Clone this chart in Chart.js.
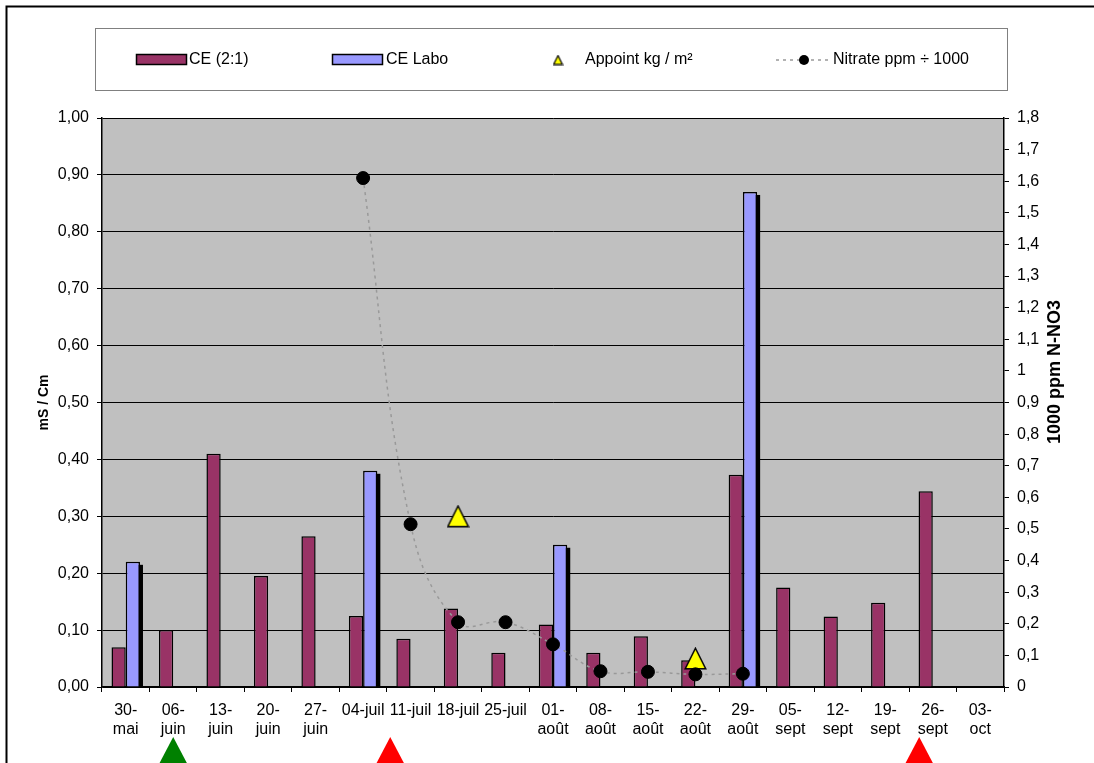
<!DOCTYPE html>
<html>
<head>
<meta charset="utf-8">
<script src="https://cdn.jsdelivr.net/npm/chart.js@4.4.0/dist/chart.umd.min.js"></script>
<style>
  html, body { margin: 0; padding: 0; background: #fff; }
  #wrap { width: 1094px; height: 763px; position: relative; }
</style>
</head>
<body>
<div id="wrap"><canvas id="chart"></canvas></div>
<script>
// Weekly sampling dates
const categories = [
  ['30-', 'mai'], ['06-', 'juin'], ['13-', 'juin'], ['20-', 'juin'], ['27-', 'juin'],
  '04-juil', '11-juil', '18-juil', '25-juil',
  ['01-', 'août'], ['08-', 'août'], ['15-', 'août'], ['22-', 'août'], ['29-', 'août'],
  ['05-', 'sept'], ['12-', 'sept'], ['19-', 'sept'], ['26-', 'sept'], ['03-', 'oct']
];

// Conductivity (mS/cm)
const ceRatio = [0.07, 0.10, 0.41, 0.195, 0.265, 0.125, 0.085, 0.138, 0.06, 0.11,
                 0.06, 0.089, 0.047, 0.373, 0.175, 0.124, 0.148, 0.344, null];
const ceLabo  = [0.22, null, null, null, null, 0.38, null, null, null, 0.25,
                 null, null, null, 0.87, null, null, null, null, null];

// Fertiliser top-up (kg / m²)
const appoint = [null, null, null, null, null, null, null, 0.30, null, null,
                 null, null, 0.05, null, null, null, null, null, null];

// Nitrate, ppm / 1000
const nitrate = [null, null, null, null, null, 1.61, 0.515, 0.205, 0.205, 0.135,
                 0.05, 0.048, 0.04, 0.042, null, null, null, null, null];

// Axis tick labels
const leftTickLabels  = ['0,00', '0,10', '0,20', '0,30', '0,40', '0,50', '0,60', '0,70', '0,80', '0,90', '1,00'];
const rightTickLabels = ['0', '0,1', '0,2', '0,3', '0,4', '0,5', '0,6', '0,7', '0,8', '0,9',
                         '1', '1,1', '1,2', '1,3', '1,4', '1,5', '1,6', '1,7', '1,8'];

// Event markers under the date axis (month, day)
const firstDate = [5, 30];
const greenEventDates = [[6, 6]];
const redEventDates = [[7, 8], [9, 24]];

const FONT = "'Liberation Sans', Arial, sans-serif";

function dateToIndex(md) {
  const t0 = Date.UTC(2001, firstDate[0] - 1, firstDate[1]);
  const t = Date.UTC(2001, md[0] - 1, md[1]);
  return (t - t0) / 86400000 / 7;
}

function makeTriangle(w, h, lw) {
  const c = document.createElement('canvas');
  c.width = w; c.height = h;
  const g = c.getContext('2d');
  g.beginPath();
  g.moveTo(w / 2, lw / 2 + 0.5);
  g.lineTo(w - lw / 2 - 0.5, h - lw / 2 - 0.5);
  g.lineTo(lw / 2 + 0.5, h - lw / 2 - 0.5);
  g.closePath();
  g.fillStyle = '#FFFF00';
  g.fill();
  g.lineWidth = lw;
  g.strokeStyle = '#000';
  g.stroke();
  return c;
}
const triBig = makeTriangle(23, 23, 1.5);
const triSmall = makeTriangle(11, 11, 1.2);

// Grey plot area and white page
const backgroundPlugin = {
  id: 'bg',
  beforeDraw(chart) {
    const { ctx, chartArea: a } = chart;
    ctx.save();
    ctx.fillStyle = '#fff';
    ctx.fillRect(0, 0, chart.width, chart.height);
    ctx.fillStyle = '#C0C0C0';
    ctx.fillRect(a.left, a.top, a.right - a.left, a.bottom - a.top);
    ctx.restore();
  }
};

// Solid drop shadow behind the lab bars
const shadowPlugin = {
  id: 'barShadow',
  beforeDatasetDraw(chart, args) {
    const ds = chart.data.datasets[args.index];
    if (ds.label !== 'CE Labo') return;
    const ctx = chart.ctx;
    const a = chart.chartArea;
    ctx.save();
    ctx.beginPath();
    ctx.rect(a.left, a.top, a.right - a.left, a.bottom - a.top);
    ctx.clip();
    ctx.fillStyle = '#000';
    args.meta.data.forEach((bar, i) => {
      if (ds.data[i] == null) return;
      const p = bar.getProps(['x', 'y', 'base', 'width'], true);
      ctx.fillRect(p.x - p.width / 2 + 3, p.y + 3, p.width, p.base - p.y - 3);
    });
    ctx.restore();
  }
};

// Legend box, right axis title, frame and event markers
const decorPlugin = {
  id: 'decor',
  afterDraw(chart) {
    const ctx = chart.ctx;
    const ds = chart.data.datasets;
    const byLabel = l => ds.find(d => d.label === l);
    ctx.save();

    // frame
    ctx.strokeStyle = '#000';
    ctx.lineWidth = 2;
    ctx.beginPath();
    ctx.moveTo(6.5, 763);
    ctx.lineTo(6.5, 6.5);
    ctx.lineTo(1094, 6.5);
    ctx.stroke();

    // legend box
    ctx.lineWidth = 1;
    ctx.strokeStyle = '#808080';
    ctx.strokeRect(95.5, 28.5, 912, 62);

    ctx.font = '16px ' + FONT;
    ctx.fillStyle = '#000';
    ctx.textBaseline = 'middle';
    ctx.textAlign = 'left';
    const ly = 60;

    ctx.lineWidth = 1.5;
    ctx.strokeStyle = '#000';
    const ce = byLabel('CE (2:1)');
    ctx.fillStyle = ce.backgroundColor;
    ctx.fillRect(136, 54, 51, 11);
    ctx.strokeRect(136.5, 54.5, 50, 10);
    ctx.fillStyle = '#000';
    ctx.fillText(ce.label, 189, ly);

    const lab = byLabel('CE Labo');
    ctx.fillStyle = lab.backgroundColor;
    ctx.fillRect(332, 54, 51, 11);
    ctx.strokeRect(332.5, 54.5, 50, 10);
    ctx.fillStyle = '#000';
    ctx.fillText(lab.label, 386, ly);

    const ap = byLabel('Appoint kg / m²');
    ctx.drawImage(triSmall, 558 - 5.5, ly - 5.5);
    ctx.fillText(ap.label, 585, ly);

    const ni = byLabel('Nitrate ppm ÷ 1000');
    ctx.save();
    ctx.strokeStyle = ni.borderColor;
    ctx.lineWidth = 1.5;
    ctx.setLineDash([3, 4]);
    ctx.beginPath();
    ctx.moveTo(776, ly);
    ctx.lineTo(830, ly);
    ctx.stroke();
    ctx.restore();
    ctx.beginPath();
    ctx.arc(804, ly, 5, 0, Math.PI * 2);
    ctx.fillStyle = '#000';
    ctx.fill();
    ctx.fillText(ni.label, 833, ly);

    // right axis title
    ctx.save();
    ctx.translate(1055, 372);
    ctx.rotate(-Math.PI / 2);
    ctx.font = 'bold 18px ' + FONT;
    ctx.textAlign = 'center';
    ctx.textBaseline = 'middle';
    ctx.fillText('1000 ppm N-NO3', 0, 0);
    ctx.restore();

    // event markers
    const xs = chart.scales.x;
    const drawMark = (md, color) => {
      const x = xs.getPixelForValue(dateToIndex(md));
      ctx.beginPath();
      ctx.moveTo(x, 737);
      ctx.lineTo(x + 21, 777);
      ctx.lineTo(x - 21, 777);
      ctx.closePath();
      ctx.fillStyle = color;
      ctx.fill();
    };
    greenEventDates.forEach(d => drawMark(d, '#008000'));
    redEventDates.forEach(d => drawMark(d, '#FF0000'));

    ctx.restore();
  }
};

const tickFont = { family: FONT, size: 16 };

new Chart(document.getElementById('chart'), {
  type: 'bar',
  data: {
    labels: categories,
    datasets: [
      {
        type: 'line',
        label: 'Nitrate ppm ÷ 1000',
        data: nitrate,
        yAxisID: 'y1',
        order: 0,
        borderColor: '#999999',
        borderWidth: 1.5,
        borderDash: [3, 4],
        tension: 0.4,
        fill: false,
        pointRadius: 6.5,
        pointBackgroundColor: '#000',
        pointBorderColor: '#000',
        pointBorderWidth: 1
      },
      {
        type: 'line',
        label: 'Appoint kg / m²',
        data: appoint,
        yAxisID: 'y',
        order: 1,
        showLine: false,
        pointStyle: triBig,
        pointRadius: 11
      },
      {
        label: 'CE (2:1)',
        data: ceRatio,
        yAxisID: 'y',
        order: 2,
        backgroundColor: '#993366',
        borderColor: '#000',
        borderWidth: 1.5,
        categoryPercentage: 0.6,
        barPercentage: 1.0
      },
      {
        label: 'CE Labo',
        data: ceLabo,
        yAxisID: 'y',
        order: 3,
        backgroundColor: '#9999FF',
        borderColor: '#000',
        borderWidth: 1.5,
        categoryPercentage: 0.6,
        barPercentage: 1.0
      }
    ]
  },
  options: {
    responsive: true,
    maintainAspectRatio: false,
    animation: false,
    layout: { padding: { top: 118, left: 0, right: 0, bottom: 0 } },
    plugins: {
      legend: { display: false },
      tooltip: { enabled: false }
    },
    scales: {
      x: {
        offset: true,
        grid: { offset: true, drawOnChartArea: false, color: '#000', tickColor: '#000', tickLength: 5 },
        border: { color: '#000', width: 1.5 },
        ticks: { color: '#000', font: { ...tickFont, lineHeight: 1.2 }, autoSkip: false, maxRotation: 0, minRotation: 0, padding: 9 },
        afterFit(s) { s.height = 76; }
      },
      y: {
        position: 'left',
        min: 0,
        max: 1,
        ticks: {
          stepSize: 0.1,
          color: '#000',
          font: tickFont,
          padding: 8,
          callback: v => leftTickLabels[Math.round(v * 10)]
        },
        grid: { color: '#000', tickColor: '#000', tickLength: 5, lineWidth: 1 },
        border: { color: '#000', width: 1.5 },
        title: {
          display: true,
          text: 'mS / Cm',
          color: '#000',
          font: { family: FONT, size: 14, weight: 'bold' },
          padding: { top: 36, bottom: 0 }
        },
        afterFit(s) { s.width = 102; }
      },
      y1: {
        position: 'right',
        min: 0,
        max: 1.8,
        ticks: {
          stepSize: 0.1,
          color: '#000',
          font: tickFont,
          padding: 8,
          callback: v => rightTickLabels[Math.round(v * 10)]
        },
        grid: { drawOnChartArea: false, color: '#000', tickColor: '#000', tickLength: 5 },
        border: { color: '#000', width: 1.5 },
        afterFit(s) { s.width = 90; }
      }
    }
  },
  plugins: [backgroundPlugin, shadowPlugin, decorPlugin]
});
</script>
</body>
</html>
